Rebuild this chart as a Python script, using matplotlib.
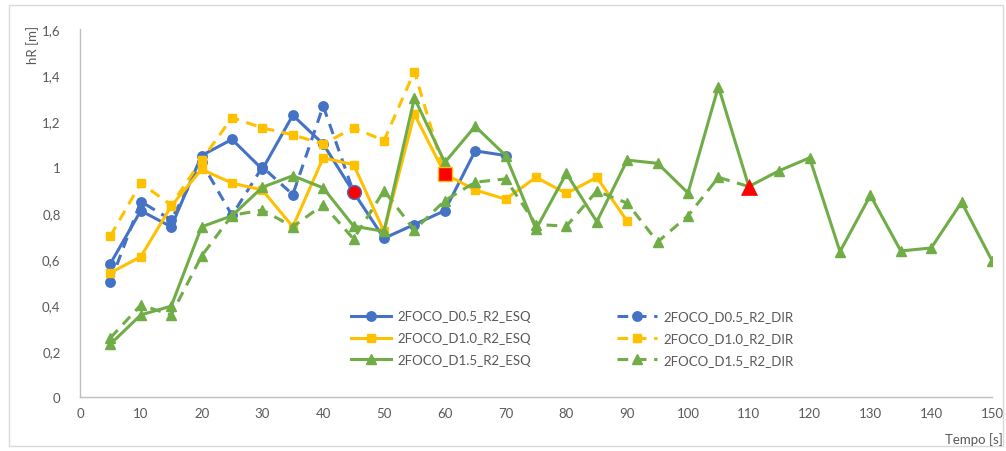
import matplotlib
matplotlib.use("Agg")
import matplotlib.pyplot as plt
from matplotlib.patches import Rectangle
from matplotlib.ticker import FuncFormatter

plt.rcParams['font.family'] = ['Lato', 'DejaVu Sans']

# ---- data ----
t_blue_esq = [5, 10, 15, 20, 25, 30, 35, 40, 45, 50, 55, 60, 65, 70]
blue_esq = [0.58, 0.81, 0.74, 1.05, 1.12, 0.99, 1.225, 1.10, 0.89, 0.69, 0.75, 0.81, 1.07, 1.05]
t_blue_dir = [5, 10, 15, 20, 25, 30, 35, 40, 45]
blue_dir = [0.50, 0.85, 0.77, 1.02, 0.79, 1.00, 0.88, 1.265, 0.89]

t_yel_esq = [5, 10, 15, 20, 25, 30, 35, 40, 45, 50, 55, 60, 65, 70, 75, 80, 85, 90]
yel_esq = [0.54, 0.61, 0.83, 0.99, 0.93, 0.90, 0.74, 1.04, 1.01, 0.72, 1.23, 0.97, 0.90, 0.86, 0.955, 0.885, 0.955, 0.765]
t_yel_dir = [5, 10, 15, 20, 25, 30, 35, 40, 45, 50, 55, 60]
yel_dir = [0.70, 0.93, 0.835, 1.03, 1.215, 1.17, 1.14, 1.10, 1.17, 1.115, 1.415, 0.97]

t_grn_esq = [5, 10, 15, 20, 25, 30, 35, 40, 45, 50, 55, 60, 65, 70, 75, 80, 85, 90, 95, 100,
             105, 110, 115, 120, 125, 130, 135, 140, 145, 150]
grn_esq = [0.23, 0.357, 0.395, 0.74, 0.788, 0.912, 0.962, 0.909, 0.743, 0.72, 1.30, 1.02, 1.177, 1.05,
           0.73, 0.972, 0.762, 1.03, 1.016, 0.887, 1.35, 0.915, 0.984, 1.04, 0.632, 0.877, 0.635,
           0.648, 0.847, 0.593]
t_grn_dir = [5, 10, 15, 20, 25, 30, 35, 40, 45, 50, 55, 60, 65, 70, 75, 80, 85, 90, 95, 100, 105, 110]
grn_dir = [0.257, 0.40, 0.357, 0.613, 0.79, 0.813, 0.74, 0.836, 0.687, 0.897, 0.726, 0.854, 0.934,
           0.948, 0.75, 0.743, 0.895, 0.843, 0.674, 0.788, 0.955, 0.915]

# red end-point markers
end_t = [45, 60, 110]
end_h = [0.89, 0.97, 0.915]

labels = ["2FOCO_D0.5_R2_ESQ", "2FOCO_D0.5_R2_DIR",
          "2FOCO_D1.0_R2_ESQ", "2FOCO_D1.0_R2_DIR",
          "2FOCO_D1.5_R2_ESQ", "2FOCO_D1.5_R2_DIR"]
x_ticks = list(range(0, 151, 10))
y_ticks = [0, 0.2, 0.4, 0.6, 0.8, 1.0, 1.2, 1.4, 1.6]

BLUE = "#4472C4"
YEL = "#FFC000"
GRN = "#70AD47"
GREY = "#595959"

W, H = 1006, 452
fig = plt.figure(figsize=(W / 100, H / 100), dpi=100)
fig.patches.append(Rectangle((9 / W, 1 - 447 / H), (1003 - 9) / W, (447 - 6) / H,
                             transform=fig.transFigure, fill=False,
                             edgecolor="#D9D9D9", linewidth=1.0))
ax = fig.add_axes([80 / W, 1 - 398 / H, (992 - 80) / W, (398 - 30) / H])

lw = 2.2
dsh = (3.5, 2.5)
h1, = ax.plot(t_blue_esq, blue_esq, '-', color=BLUE, lw=lw, marker='o', ms=6.8)
h2, = ax.plot(t_blue_dir, blue_dir, '--', color=BLUE, lw=lw, marker='o', ms=6.8, dashes=dsh)
h3, = ax.plot(t_yel_esq, yel_esq, '-', color=YEL, lw=lw, marker='s', ms=5.8)
h4, = ax.plot(t_yel_dir, yel_dir, '--', color=YEL, lw=lw, marker='s', ms=5.8, dashes=dsh)
h5, = ax.plot(t_grn_esq, grn_esq, '-', color=GRN, lw=lw, marker='^', ms=6.8)
h6, = ax.plot(t_grn_dir, grn_dir, '--', color=GRN, lw=lw, marker='^', ms=6.8, dashes=dsh)

ax.plot(end_t[0], end_h[0], 'o', color='#FF0000', ms=10, mec=BLUE, mew=1.0, zorder=5)
ax.plot(end_t[1], end_h[1], 's', color='#FF0000', ms=10, mec=YEL, mew=1.0, zorder=5)
ax.plot(end_t[2], end_h[2], '^', color='#FF0000', ms=11, mec='#FF0000', mew=0.5, zorder=5)

ax.set_xlim(0, 150)
ax.set_ylim(0, 1.6)
ax.set_xticks(x_ticks)
ax.set_yticks(y_ticks)
ax.yaxis.set_major_formatter(FuncFormatter(lambda v, p: f"{v:g}".replace('.', ',')))
ax.tick_params(axis='both', length=0, labelsize=9.5, labelcolor=GREY, pad=7)
ax.tick_params(axis='y', pad=14)
for s in ['top', 'right']:
    ax.spines[s].set_visible(False)
for s in ['left', 'bottom']:
    ax.spines[s].set_color("#BFBFBF")
    ax.spines[s].set_linewidth(1.0)

fig.text(33 / W, 1 - 45 / H, "hR [m]", rotation=90, ha='center', va='center',
         fontsize=9.5, color=GREY)
fig.text(1003 / W, 1 - 440 / H, "Tempo [s]", ha='right', va='center',
         fontsize=9.5, color=GREY)

handles = [h1, h3, h5, h2, h4, h6]
leg_labels = [labels[0], labels[2], labels[4], labels[1], labels[3], labels[5]]
fig.legend(handles, leg_labels, ncol=2, loc='upper left',
           bbox_to_anchor=(342 / W, 1 - 302 / H), frameon=False,
           fontsize=9.5, labelcolor=GREY, handlelength=3.0, handletextpad=0.5,
           columnspacing=6.5, labelspacing=0.75, borderpad=0.2)

fig.savefig("out.png", dpi=100)
